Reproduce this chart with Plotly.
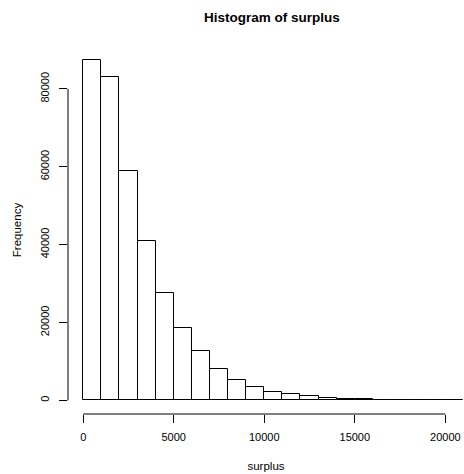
import plotly.graph_objects as go

# Data: histogram of surplus, bins of width 1000 starting at 0
bin_starts = list(range(0, 21000, 1000))
counts = [87500, 83000, 58900, 40900, 27600, 18700, 12600, 7960, 5130, 3340,
          2230, 1540, 1030, 610, 430, 300, 200, 150, 100, 70, 50]
bin_width = 1000
x_ticks = [0, 5000, 10000, 15000, 20000]
y_ticks = [0, 20000, 40000, 60000, 80000]

centers = [b + bin_width / 2 for b in bin_starts]

FONT = "Liberation Sans, Arial, Helvetica, sans-serif"

fig = go.Figure()
fig.add_trace(go.Bar(
    x=centers, y=counts, width=[bin_width] * len(counts),
    marker=dict(color="white", line=dict(color="black", width=1)),
    showlegend=False, hoverinfo="skip",
))

xmin = -0.04 * 21000
ymax = max(counts) * 1.04
ymin = -0.04 * max(counts)

fig.update_layout(
    width=464, height=474,
    margin=dict(l=68, r=0, t=46, b=60),
    plot_bgcolor="white", paper_bgcolor="white",
    font=dict(family=FONT, size=11, color="black"),
    title=dict(text="<b>Histogram of surplus</b>", x=272 / 464, xref="container",
               xanchor="center", y=1 - 17 / 474, yref="container", yanchor="middle",
               font=dict(family=FONT, size=13.5, color="black")),
    bargap=0,
    xaxis=dict(range=[xmin, 21030], tickvals=x_ticks, ticktext=[str(v) for v in x_ticks],
               ticks="outside", ticklen=8, tickcolor="black", tickwidth=1,
               showgrid=False, zeroline=False, showline=False,
               ticklabelstandoff=5,
               title=dict(text="surplus", standoff=19, font=dict(size=11.5, color="black"))),
    yaxis=dict(range=[ymin, ymax], tickvals=y_ticks, ticktext=[str(v) for v in y_ticks],
               ticks="outside", ticklen=8, tickcolor="black", tickwidth=1,
               tickangle=-90,
               showgrid=False, zeroline=False, showline=False,
               ticklabelstandoff=6,
               title=dict(text="Frequency", standoff=14, font=dict(size=11.5, color="black"))),
    shapes=[
        dict(type="line", xref="x", yref="paper", x0=x_ticks[0], x1=x_ticks[-1], y0=0, y1=0,
             line=dict(color="black", width=1)),
        dict(type="line", xref="paper", yref="y", x0=0, x1=0, y0=y_ticks[0], y1=y_ticks[-1],
             line=dict(color="black", width=1)),
    ],
)

fig.write_html("out.html")
